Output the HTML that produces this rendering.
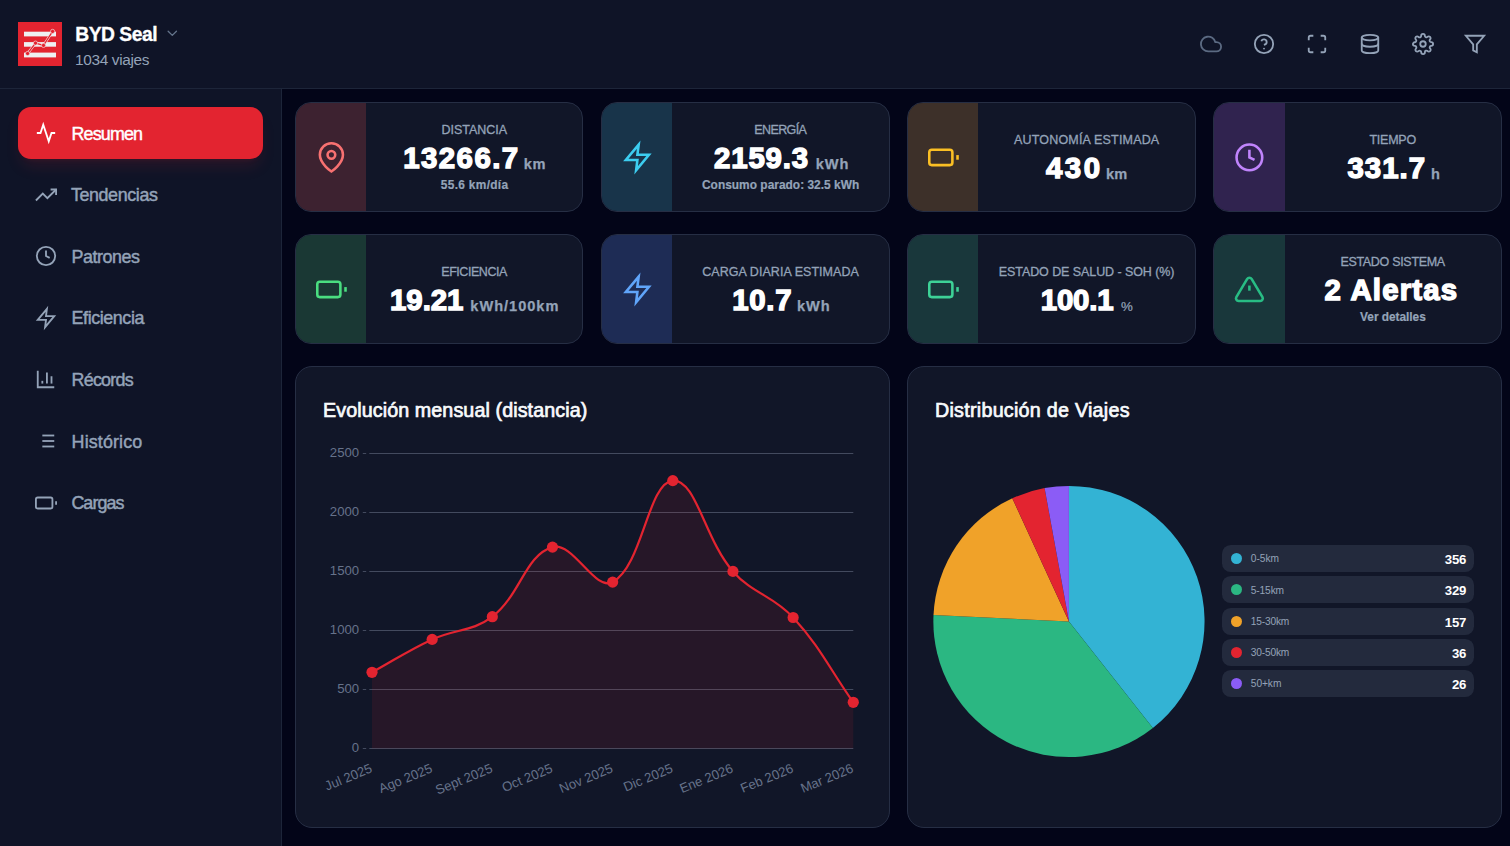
<!DOCTYPE html><html lang="es"><head><meta charset="utf-8"><title>BYD Seal</title><style>
*{box-sizing:border-box;margin:0;padding:0}
html,body{width:1510px;height:846px;overflow:hidden;background:#030518;font-family:"Liberation Sans",sans-serif}
.abs{position:absolute}
.t{position:absolute;white-space:nowrap;line-height:1;font-family:"Liberation Sans",sans-serif}
#hdr{left:0;top:0;width:1510px;height:89px;background:#0f1427;border-bottom:1px solid #1d2539}
#side{left:0;top:89px;width:282px;height:757px;background:#0f1427;border-right:1px solid #1d2539}
.card{position:absolute;height:110px;background:#111628;border:1px solid #262e44;border-radius:16px;overflow:hidden}
.ic{position:absolute;left:0;top:0;width:70px;height:108px}
.panel{position:absolute;top:366px;height:462px;background:#111628;border:1px solid #262e44;border-radius:17px}
svg{position:absolute;overflow:visible}
.leg{position:absolute;left:1222px;width:252px;height:27px;background:#232a3d;border-radius:8.8px}
.dot{position:absolute;left:1230.9px;width:11.3px;height:11.3px;border-radius:50%}
</style></head><body><div id="hdr" class="abs"></div><div id="side" class="abs"></div>
<header>
<svg style="left:18px;top:22px" width="44" height="44" viewBox="0 0 44 44">
<rect width="44" height="44" fill="#e32430"/>
<rect x="6" y="9.7" width="32" height="4.7" fill="#eef0f2"/><rect x="6" y="20.1" width="32" height="4.6" fill="#eef0f2"/><rect x="6" y="30.6" width="32" height="4.8" fill="#eef0f2"/>
<polyline points="9.6,31.5 17.5,21.1 25.5,23.4 34.6,9.4" fill="none" stroke="#f4e4e6" stroke-width="2.5" stroke-linejoin="round"/>
<polyline points="9.6,31.5 17.5,21.1 25.5,23.4 34.6,9.4" fill="none" stroke="#e32430" stroke-width="1.25" stroke-linejoin="round"/>
<g fill="#e32430" stroke="#f4e4e6" stroke-width="0.65"><circle cx="9.6" cy="31.5" r="2.1"/><circle cx="17.5" cy="21.1" r="2.1"/><circle cx="25.5" cy="23.4" r="2.1"/><circle cx="34.6" cy="9.4" r="2.1"/></g>
</svg>
<svg style="left:164.10px;top:25.00px" width="16.6" height="16.6" viewBox="0 0 24 24" fill="none" stroke="#64748b" stroke-width="1.9" stroke-linecap="round" stroke-linejoin="round"><polyline points="6 9 12 15 18 9"/></svg>
<svg style="left:1200.00px;top:33.00px" width="22" height="22" viewBox="0 0 24 24" fill="none" stroke="#5b6a82" stroke-width="2" stroke-linecap="round" stroke-linejoin="round"><path d="M18 10h-1.26A8 8 0 1 0 9 20h9a5 5 0 0 0 0-10z"/></svg>
<svg style="left:1252.90px;top:33.00px" width="22" height="22" viewBox="0 0 24 24" fill="none" stroke="#94a3b8" stroke-width="2" stroke-linecap="butt" stroke-linejoin="round"><circle cx="12" cy="12" r="10"/><path d="M9.09 9a3 3 0 0 1 5.83 1c0 2-3 3-3 3"/><circle cx="12" cy="17" r="1" fill="#94a3b8" stroke="none"/></svg>
<svg style="left:1305.80px;top:33.00px" width="22" height="22" viewBox="0 0 24 24" fill="none" stroke="#94a3b8" stroke-width="2" stroke-linecap="butt" stroke-linejoin="round"><path d="M8 3H5a2 2 0 0 0-2 2v3m18 0V5a2 2 0 0 0-2-2h-3m0 18h3a2 2 0 0 0 2-2v-3M3 16v3a2 2 0 0 0 2 2h3"/></svg>
<svg style="left:1358.90px;top:33.00px" width="22" height="22" viewBox="0 0 24 24" fill="none" stroke="#94a3b8" stroke-width="2" stroke-linecap="round" stroke-linejoin="round"><ellipse cx="12" cy="5" rx="9" ry="3"/><path d="M21 12c0 1.66-4 3-9 3s-9-1.34-9-3"/><path d="M3 5v14c0 1.66 4 3 9 3s9-1.34 9-3V5"/></svg>
<svg style="left:1411.90px;top:33.00px" width="22" height="22" viewBox="0 0 24 24" fill="none" stroke="#94a3b8" stroke-width="2" stroke-linecap="round" stroke-linejoin="round"><circle cx="12" cy="12" r="3"/><path d="M19.4 15a1.65 1.65 0 0 0 .33 1.82l.06.06a2 2 0 0 1 0 2.83 2 2 0 0 1-2.83 0l-.06-.06a1.65 1.65 0 0 0-1.82-.33 1.65 1.65 0 0 0-1 1.51V21a2 2 0 0 1-2 2 2 2 0 0 1-2-2v-.09A1.65 1.65 0 0 0 9 19.4a1.65 1.65 0 0 0-1.82.33l-.06.06a2 2 0 0 1-2.83 0 2 2 0 0 1 0-2.83l.06-.06a1.65 1.65 0 0 0 .33-1.82 1.65 1.65 0 0 0-1.51-1H3a2 2 0 0 1-2-2 2 2 0 0 1 2-2h.09A1.65 1.65 0 0 0 4.6 9a1.65 1.65 0 0 0-.33-1.82l-.06-.06a2 2 0 0 1 0-2.83 2 2 0 0 1 2.83 0l.06.06a1.65 1.65 0 0 0 1.82.33H9a1.65 1.65 0 0 0 1-1.51V3a2 2 0 0 1 2-2 2 2 0 0 1 2 2v.09a1.65 1.65 0 0 0 1 1.51 1.65 1.65 0 0 0 1.82-.33l.06-.06a2 2 0 0 1 2.83 0 2 2 0 0 1 0 2.83l-.06.06a1.65 1.65 0 0 0-.33 1.82V9a1.65 1.65 0 0 0 1.51 1H21a2 2 0 0 1 2 2 2 2 0 0 1-2 2h-.09a1.65 1.65 0 0 0-1.51 1z"/></svg>
<svg style="left:1464.30px;top:33.00px" width="22" height="22" viewBox="0 0 24 24" fill="none" stroke="#94a3b8" stroke-width="2" stroke-linecap="butt" stroke-linejoin="miter"><polygon points="22 3 2 3 10 12.46 10 19 14 21 14 12.46 22 3"/></svg>
<span class="t" style="left:75.30px;top:25px;font-size:19.3px;font-weight:700;color:#ffffff;letter-spacing:-0.505px;-webkit-text-stroke:0.3px #ffffff;">BYD Seal</span>
<span class="t" style="left:75.10px;top:52px;font-size:15.4px;font-weight:400;color:#94a3b8;letter-spacing:-0.347px;">1034 viajes</span>
</header><nav>
<div class="abs" style="left:18px;top:107px;width:245px;height:52px;border-radius:13px;background:#e32430;box-shadow:0 10px 16px -3px rgba(227,36,48,.13),0 4px 6px -4px rgba(227,36,48,.12)"></div>
<svg style="left:35.20px;top:122.00px" width="22" height="22" viewBox="0 0 24 24" fill="none" stroke="#fff" stroke-width="2" stroke-linecap="butt" stroke-linejoin="miter"><polyline points="22 12 18 12 15 21 9 3 6 12 2 12"/></svg>
<svg style="left:35.20px;top:183.60px" width="22" height="22" viewBox="0 0 24 24" fill="none" stroke="#94a3b8" stroke-width="2" stroke-linecap="butt" stroke-linejoin="miter"><polyline points="23 6 13.5 15.5 8.5 10.5 1 18"/><polyline points="17 6 23 6 23 12"/></svg>
<svg style="left:35.20px;top:245.20px" width="22" height="22" viewBox="0 0 24 24" fill="none" stroke="#94a3b8" stroke-width="2" stroke-linecap="butt" stroke-linejoin="miter"><circle cx="12" cy="12" r="10"/><polyline points="12 6 12 12 16 14"/></svg>
<svg style="left:35.20px;top:306.80px" width="22" height="22" viewBox="0 0 24 24" fill="none" stroke="#94a3b8" stroke-width="2" stroke-linecap="butt" stroke-linejoin="miter"><polygon points="13 2 3 14 12 14 11 22 21 10 12 10 13 2"/></svg>
<svg style="left:35.20px;top:368.40px" width="22" height="22" viewBox="0 0 24 24" fill="none" stroke="#94a3b8" stroke-width="2" stroke-linecap="butt" stroke-linejoin="miter"><path d="M3 3v18h18"/><path d="M18 17V9"/><path d="M13 17V5"/><path d="M8 17v-3"/></svg>
<svg style="left:35.20px;top:430.00px" width="22" height="22" viewBox="0 0 24 24" fill="none" stroke="#94a3b8" stroke-width="2" stroke-linecap="butt" stroke-linejoin="miter"><line x1="8" y1="6" x2="21" y2="6"/><line x1="8" y1="12" x2="21" y2="12"/><line x1="8" y1="18" x2="21" y2="18"/></svg>
<svg style="left:35.20px;top:491.60px" width="22" height="22" viewBox="0 0 24 24" fill="none" stroke="#94a3b8" stroke-width="2" stroke-linecap="butt" stroke-linejoin="miter"><rect x="1" y="6" width="18" height="12" rx="2" ry="2"/><line x1="23" y1="10.2" x2="23" y2="13.8"/></svg>
<span class="t" style="left:71.50px;top:126px;font-size:17.9px;font-weight:400;color:#ffffff;letter-spacing:-0.846px;-webkit-text-stroke:0.45px #ffffff;">Resumen</span>
<span class="t" style="left:70.90px;top:187px;font-size:17.9px;font-weight:400;color:#94a3b8;letter-spacing:-0.391px;-webkit-text-stroke:0.45px #94a3b8;">Tendencias</span>
<span class="t" style="left:71.60px;top:249px;font-size:17.9px;font-weight:400;color:#94a3b8;letter-spacing:-0.458px;-webkit-text-stroke:0.45px #94a3b8;">Patrones</span>
<span class="t" style="left:71.60px;top:310px;font-size:17.9px;font-weight:400;color:#94a3b8;letter-spacing:-0.420px;-webkit-text-stroke:0.45px #94a3b8;">Eficiencia</span>
<span class="t" style="left:71.60px;top:372px;font-size:17.9px;font-weight:400;color:#94a3b8;letter-spacing:-0.771px;-webkit-text-stroke:0.45px #94a3b8;">Récords</span>
<span class="t" style="left:71.60px;top:434px;font-size:17.9px;font-weight:400;color:#94a3b8;letter-spacing:0.126px;-webkit-text-stroke:0.45px #94a3b8;">Histórico</span>
<span class="t" style="left:71.40px;top:495px;font-size:17.9px;font-weight:400;color:#94a3b8;letter-spacing:-0.938px;-webkit-text-stroke:0.45px #94a3b8;">Cargas</span>
</nav><main><section>
<div class="card" style="left:295px;top:102px;width:288px"><div class="ic" style="background:#3d2230;width:70px"></div></div>
<svg style="left:315.80px;top:141.80px" width="30.8" height="30.8" viewBox="0 0 24 24" fill="none" stroke="#f87171" stroke-width="2" stroke-linecap="butt" stroke-linejoin="miter"><path d="M21 10c0 7-9 13-9 13s-9-6-9-13a9 9 0 0 1 18 0z"/><circle cx="12" cy="10" r="3"/></svg>
<div class="card" style="left:601px;top:102px;width:289px"><div class="ic" style="background:#18344a;width:70px"></div></div>
<svg style="left:621.80px;top:141.80px" width="30.8" height="30.8" viewBox="0 0 24 24" fill="none" stroke="#3ccdf0" stroke-width="2" stroke-linecap="butt" stroke-linejoin="miter"><polygon points="13 2 3 14 12 14 11 22 21 10 12 10 13 2"/></svg>
<div class="card" style="left:907px;top:102px;width:289px"><div class="ic" style="background:#3d3029;width:70px"></div></div>
<svg style="left:927.80px;top:141.80px" width="30.8" height="30.8" viewBox="0 0 24 24" fill="none" stroke="#fbbf24" stroke-width="2" stroke-linecap="butt" stroke-linejoin="miter"><rect x="1" y="6" width="18" height="12" rx="2" ry="2"/><line x1="23" y1="10.2" x2="23" y2="13.8"/></svg>
<div class="card" style="left:1213px;top:102px;width:289px"><div class="ic" style="background:#30234f;width:71px"></div></div>
<svg style="left:1234.20px;top:141.80px" width="30.8" height="30.8" viewBox="0 0 24 24" fill="none" stroke="#c084fc" stroke-width="2" stroke-linecap="butt" stroke-linejoin="miter"><circle cx="12" cy="12" r="10"/><polyline points="12 6 12 12 16 14"/></svg>
<div class="card" style="left:295px;top:234px;width:288px"><div class="ic" style="background:#1a3834;width:70px"></div></div>
<svg style="left:315.80px;top:273.80px" width="30.8" height="30.8" viewBox="0 0 24 24" fill="none" stroke="#4ade80" stroke-width="2" stroke-linecap="butt" stroke-linejoin="miter"><rect x="1" y="6" width="18" height="12" rx="2" ry="2"/><line x1="23" y1="10.2" x2="23" y2="13.8"/></svg>
<div class="card" style="left:601px;top:234px;width:289px"><div class="ic" style="background:#1e2c55;width:70px"></div></div>
<svg style="left:621.80px;top:273.80px" width="30.8" height="30.8" viewBox="0 0 24 24" fill="none" stroke="#60a5fa" stroke-width="2" stroke-linecap="butt" stroke-linejoin="miter"><polygon points="13 2 3 14 12 14 11 22 21 10 12 10 13 2"/></svg>
<div class="card" style="left:907px;top:234px;width:289px"><div class="ic" style="background:#19373b;width:70px"></div></div>
<svg style="left:927.80px;top:273.80px" width="30.8" height="30.8" viewBox="0 0 24 24" fill="none" stroke="#3dd297" stroke-width="2" stroke-linecap="butt" stroke-linejoin="miter"><rect x="1" y="6" width="18" height="12" rx="2" ry="2"/><line x1="23" y1="10.2" x2="23" y2="13.8"/></svg>
<div class="card" style="left:1213px;top:234px;width:289px"><div class="ic" style="background:#19373b;width:71px"></div></div>
<svg style="left:1234.20px;top:273.80px" width="30.8" height="30.8" viewBox="0 0 24 24" fill="none" stroke="#28bc84" stroke-width="2" stroke-linecap="butt" stroke-linejoin="miter"><path d="M10.29 3.86L1.82 18a2 2 0 0 0 1.71 3h16.94a2 2 0 0 0 1.71-3L13.71 3.86a2 2 0 0 0-3.42 0z"/><line x1="12" y1="9" x2="12" y2="13"/></svg>
<span class="t" style="left:441.60px;top:124px;font-size:12.5px;font-weight:400;color:#94a3b8;letter-spacing:-0.044px;-webkit-text-stroke:0.3px #94a3b8;">DISTANCIA</span>
<span class="t" style="left:754.30px;top:124px;font-size:12.5px;font-weight:400;color:#94a3b8;letter-spacing:-0.611px;-webkit-text-stroke:0.3px #94a3b8;">ENERGÍA</span>
<span class="t" style="left:1014.00px;top:134px;font-size:12.5px;font-weight:400;color:#94a3b8;letter-spacing:0.179px;-webkit-text-stroke:0.3px #94a3b8;">AUTONOMÍA ESTIMADA</span>
<span class="t" style="left:1369.50px;top:134px;font-size:12.5px;font-weight:400;color:#94a3b8;letter-spacing:-0.264px;-webkit-text-stroke:0.3px #94a3b8;">TIEMPO</span>
<span class="t" style="left:441.25px;top:266px;font-size:12.5px;font-weight:400;color:#94a3b8;letter-spacing:-0.451px;-webkit-text-stroke:0.3px #94a3b8;">EFICIENCIA</span>
<span class="t" style="left:702.30px;top:266px;font-size:12.5px;font-weight:400;color:#94a3b8;letter-spacing:0.050px;-webkit-text-stroke:0.3px #94a3b8;">CARGA DIARIA ESTIMADA</span>
<span class="t" style="left:998.75px;top:266px;font-size:12.5px;font-weight:400;color:#94a3b8;letter-spacing:-0.078px;-webkit-text-stroke:0.3px #94a3b8;">ESTADO DE SALUD - SOH (%)</span>
<span class="t" style="left:1340.40px;top:256px;font-size:12.5px;font-weight:400;color:#94a3b8;letter-spacing:-0.310px;-webkit-text-stroke:0.3px #94a3b8;">ESTADO SISTEMA</span>
<span class="t" style="left:403.30px;top:143px;font-size:29.4px;font-weight:700;color:#ffffff;letter-spacing:1.425px;-webkit-text-stroke:1.4px #ffffff;">13266.7</span>
<span class="t" style="left:523.80px;top:157px;font-size:14.6px;font-weight:700;color:#94a3b8;letter-spacing:0.506px;-webkit-text-stroke:0.25px #94a3b8;">km</span>
<span class="t" style="left:714.00px;top:143px;font-size:29.4px;font-weight:700;color:#ffffff;letter-spacing:0.859px;-webkit-text-stroke:1.4px #ffffff;">2159.3</span>
<span class="t" style="left:815.80px;top:157px;font-size:14.6px;font-weight:700;color:#94a3b8;letter-spacing:0.844px;-webkit-text-stroke:0.25px #94a3b8;">kWh</span>
<span class="t" style="left:1046.10px;top:153px;font-size:29.4px;font-weight:700;color:#ffffff;letter-spacing:2.427px;-webkit-text-stroke:1.4px #ffffff;">430</span>
<span class="t" style="left:1106.00px;top:167px;font-size:14.6px;font-weight:700;color:#94a3b8;letter-spacing:0.106px;-webkit-text-stroke:0.25px #94a3b8;">km</span>
<span class="t" style="left:1347.50px;top:153px;font-size:29.4px;font-weight:700;color:#ffffff;letter-spacing:1.009px;-webkit-text-stroke:1.4px #ffffff;">331.7</span>
<span class="t" style="left:1430.90px;top:167px;font-size:14.6px;font-weight:700;color:#94a3b8;letter-spacing:0.000px;-webkit-text-stroke:0.25px #94a3b8;">h</span>
<span class="t" style="left:390.10px;top:285px;font-size:29.4px;font-weight:700;color:#ffffff;letter-spacing:-0.066px;-webkit-text-stroke:1.4px #ffffff;">19.21</span>
<span class="t" style="left:470.30px;top:299px;font-size:14.6px;font-weight:700;color:#94a3b8;letter-spacing:0.973px;-webkit-text-stroke:0.25px #94a3b8;">kWh/100km</span>
<span class="t" style="left:732.20px;top:285px;font-size:29.4px;font-weight:700;color:#ffffff;letter-spacing:0.699px;-webkit-text-stroke:1.4px #ffffff;">10.7</span>
<span class="t" style="left:797.00px;top:299px;font-size:14.6px;font-weight:700;color:#94a3b8;letter-spacing:0.944px;-webkit-text-stroke:0.25px #94a3b8;">kWh</span>
<span class="t" style="left:1040.80px;top:285px;font-size:29.4px;font-weight:700;color:#ffffff;letter-spacing:-0.191px;-webkit-text-stroke:1.4px #ffffff;">100.1</span>
<span class="t" style="left:1120.90px;top:300px;font-size:13.3px;font-weight:400;color:#94a3b8;letter-spacing:0.000px;-webkit-text-stroke:0.2px #94a3b8;">%</span>
<span class="t" style="left:1324.60px;top:275px;font-size:29.4px;font-weight:700;color:#ffffff;letter-spacing:1.190px;-webkit-text-stroke:1.4px #ffffff;">2 Alertas</span>
<span class="t" style="left:440.80px;top:180px;font-size:11.9px;font-weight:700;color:#94a3b8;letter-spacing:0.318px;-webkit-text-stroke:0.2px #94a3b8;">55.6 km/día</span>
<span class="t" style="left:702.00px;top:180px;font-size:11.9px;font-weight:700;color:#94a3b8;letter-spacing:0.026px;-webkit-text-stroke:0.2px #94a3b8;">Consumo parado: 32.5 kWh</span>
<span class="t" style="left:1360.10px;top:312px;font-size:11.9px;font-weight:700;color:#94a3b8;letter-spacing:-0.037px;-webkit-text-stroke:0.2px #94a3b8;">Ver detalles</span>
</section><section>
<div class="panel" style="left:295px;width:595px"></div><div class="panel" style="left:907px;width:595px"></div>
<svg style="left:0;top:0" width="1510" height="846" viewBox="0 0 1510 846" font-family="Liberation Sans, sans-serif"><line x1="369.3" x2="853.3" y1="748.5" y2="748.5" stroke="#434a5e" stroke-width="1"/><line x1="362.8" x2="366.2" y1="748.5" y2="748.5" stroke="#434a5e" stroke-width="1"/><text x="359.2" y="752.4" text-anchor="end" font-size="13.2" fill="#66728a">0</text><line x1="369.3" x2="853.3" y1="689.5" y2="689.5" stroke="#434a5e" stroke-width="1"/><line x1="362.8" x2="366.2" y1="689.5" y2="689.5" stroke="#434a5e" stroke-width="1"/><text x="359.2" y="693.4" text-anchor="end" font-size="13.2" fill="#66728a">500</text><line x1="369.3" x2="853.3" y1="630.5" y2="630.5" stroke="#434a5e" stroke-width="1"/><line x1="362.8" x2="366.2" y1="630.5" y2="630.5" stroke="#434a5e" stroke-width="1"/><text x="359.2" y="634.4" text-anchor="end" font-size="13.2" fill="#66728a">1000</text><line x1="369.3" x2="853.3" y1="571.5" y2="571.5" stroke="#434a5e" stroke-width="1"/><line x1="362.8" x2="366.2" y1="571.5" y2="571.5" stroke="#434a5e" stroke-width="1"/><text x="359.2" y="575.4" text-anchor="end" font-size="13.2" fill="#66728a">1500</text><line x1="369.3" x2="853.3" y1="512.5" y2="512.5" stroke="#434a5e" stroke-width="1"/><line x1="362.8" x2="366.2" y1="512.5" y2="512.5" stroke="#434a5e" stroke-width="1"/><text x="359.2" y="516.4" text-anchor="end" font-size="13.2" fill="#66728a">2000</text><line x1="369.3" x2="853.3" y1="453.5" y2="453.5" stroke="#434a5e" stroke-width="1"/><line x1="362.8" x2="366.2" y1="453.5" y2="453.5" stroke="#434a5e" stroke-width="1"/><text x="359.2" y="457.4" text-anchor="end" font-size="13.2" fill="#66728a">2500</text><path d="M372.00,672.30 C396.06,659.14 407.32,650.88 432.16,639.40 C455.45,628.64 472.52,631.89 492.32,616.70 C520.65,594.97 525.08,554.98 552.48,547.10 C573.21,541.14 594.78,591.97 612.64,582.10 C642.91,565.37 647.77,482.83 672.80,480.60 C695.90,478.55 704.58,539.11 732.96,571.40 C752.71,593.87 772.83,595.42 793.12,617.50 C820.96,647.78 829.22,668.38 853.28,702.30 L853.28,748.5 L372.00,748.5 Z" fill="rgba(227,36,48,0.1)"/><path d="M372.00,672.30 C396.06,659.14 407.32,650.88 432.16,639.40 C455.45,628.64 472.52,631.89 492.32,616.70 C520.65,594.97 525.08,554.98 552.48,547.10 C573.21,541.14 594.78,591.97 612.64,582.10 C642.91,565.37 647.77,482.83 672.80,480.60 C695.90,478.55 704.58,539.11 732.96,571.40 C752.71,593.87 772.83,595.42 793.12,617.50 C820.96,647.78 829.22,668.38 853.28,702.30" fill="none" stroke="#e32430" stroke-width="2.2" stroke-linejoin="round"/><circle cx="372.00" cy="672.30" r="5.6" fill="#e32430"/><circle cx="432.16" cy="639.40" r="5.6" fill="#e32430"/><circle cx="492.32" cy="616.70" r="5.6" fill="#e32430"/><circle cx="552.48" cy="547.10" r="5.6" fill="#e32430"/><circle cx="612.64" cy="582.10" r="5.6" fill="#e32430"/><circle cx="672.80" cy="480.60" r="5.6" fill="#e32430"/><circle cx="732.96" cy="571.40" r="5.6" fill="#e32430"/><circle cx="793.12" cy="617.50" r="5.6" fill="#e32430"/><circle cx="853.28" cy="702.30" r="5.6" fill="#e32430"/><text transform="translate(368.40,760.4) rotate(-22.5)" x="0" y="12.3" text-anchor="end" font-size="13.2" fill="#66728a">Jul 2025</text><text transform="translate(428.56,760.4) rotate(-22.5)" x="0" y="12.3" text-anchor="end" font-size="13.2" fill="#66728a">Ago 2025</text><text transform="translate(488.72,760.4) rotate(-22.5)" x="0" y="12.3" text-anchor="end" font-size="13.2" fill="#66728a">Sept 2025</text><text transform="translate(548.88,760.4) rotate(-22.5)" x="0" y="12.3" text-anchor="end" font-size="13.2" fill="#66728a">Oct 2025</text><text transform="translate(609.04,760.4) rotate(-22.5)" x="0" y="12.3" text-anchor="end" font-size="13.2" fill="#66728a">Nov 2025</text><text transform="translate(669.20,760.4) rotate(-22.5)" x="0" y="12.3" text-anchor="end" font-size="13.2" fill="#66728a">Dic 2025</text><text transform="translate(729.36,760.4) rotate(-22.5)" x="0" y="12.3" text-anchor="end" font-size="13.2" fill="#66728a">Ene 2026</text><text transform="translate(789.52,760.4) rotate(-22.5)" x="0" y="12.3" text-anchor="end" font-size="13.2" fill="#66728a">Feb 2026</text><text transform="translate(849.68,760.4) rotate(-22.5)" x="0" y="12.3" text-anchor="end" font-size="13.2" fill="#66728a">Mar 2026</text><path d="M1068.95,621.5 L1068.95,485.90 A135.6,135.6 0 0 1 1152.86,728.02 Z" fill="#33b3d4"/><path d="M1068.95,621.5 L1152.86,728.02 A135.6,135.6 0 0 1 933.51,614.91 Z" fill="#2bb782"/><path d="M1068.95,621.5 L933.51,614.91 A135.6,135.6 0 0 1 1012.31,498.30 Z" fill="#f0a229"/><path d="M1068.95,621.5 L1012.31,498.30 A135.6,135.6 0 0 1 1044.58,488.11 Z" fill="#e32430"/><path d="M1068.95,621.5 L1044.58,488.11 A135.6,135.6 0 0 1 1068.95,485.90 Z" fill="#8b5cf6"/></svg>
<div class="leg" style="top:545px"></div><div class="dot" style="top:552.90px;background:#33b3d4"></div>
<div class="leg" style="top:576.3px"></div><div class="dot" style="top:584.20px;background:#2bb782"></div>
<div class="leg" style="top:607.7px"></div><div class="dot" style="top:615.60px;background:#f0a229"></div>
<div class="leg" style="top:639px"></div><div class="dot" style="top:646.90px;background:#e32430"></div>
<div class="leg" style="top:670.2px"></div><div class="dot" style="top:678.10px;background:#8b5cf6"></div>
<span class="t" style="left:323.00px;top:401px;font-size:19.7px;font-weight:400;color:#f8fafc;letter-spacing:0.098px;-webkit-text-stroke:0.7px #f8fafc;">Evolución mensual (distancia)</span>
<span class="t" style="left:935.00px;top:401px;font-size:19.7px;font-weight:400;color:#f8fafc;letter-spacing:0.263px;-webkit-text-stroke:0.7px #f8fafc;">Distribución de Viajes</span>
<span class="t" style="left:1250.80px;top:554px;font-size:10.2px;font-weight:400;color:#94a3b8;letter-spacing:-0.028px;">0-5km</span>
<span class="t" style="left:1444.85px;top:553px;font-size:13.2px;font-weight:700;color:#ffffff;letter-spacing:-0.283px;">356</span>
<span class="t" style="left:1250.80px;top:586px;font-size:10.2px;font-weight:400;color:#94a3b8;letter-spacing:-0.137px;">5-15km</span>
<span class="t" style="left:1444.85px;top:584px;font-size:13.2px;font-weight:700;color:#ffffff;letter-spacing:-0.283px;">329</span>
<span class="t" style="left:1250.80px;top:617px;font-size:10.2px;font-weight:400;color:#94a3b8;letter-spacing:-0.190px;">15-30km</span>
<span class="t" style="left:1444.85px;top:616px;font-size:13.2px;font-weight:700;color:#ffffff;letter-spacing:-0.283px;">157</span>
<span class="t" style="left:1250.80px;top:648px;font-size:10.2px;font-weight:400;color:#94a3b8;letter-spacing:-0.190px;">30-50km</span>
<span class="t" style="left:1452.00px;top:647px;font-size:13.2px;font-weight:700;color:#ffffff;letter-spacing:-0.372px;">36</span>
<span class="t" style="left:1250.80px;top:679px;font-size:10.2px;font-weight:400;color:#94a3b8;letter-spacing:-0.069px;">50+km</span>
<span class="t" style="left:1452.00px;top:678px;font-size:13.2px;font-weight:700;color:#ffffff;letter-spacing:-0.372px;">26</span>
</section></main></body></html>
